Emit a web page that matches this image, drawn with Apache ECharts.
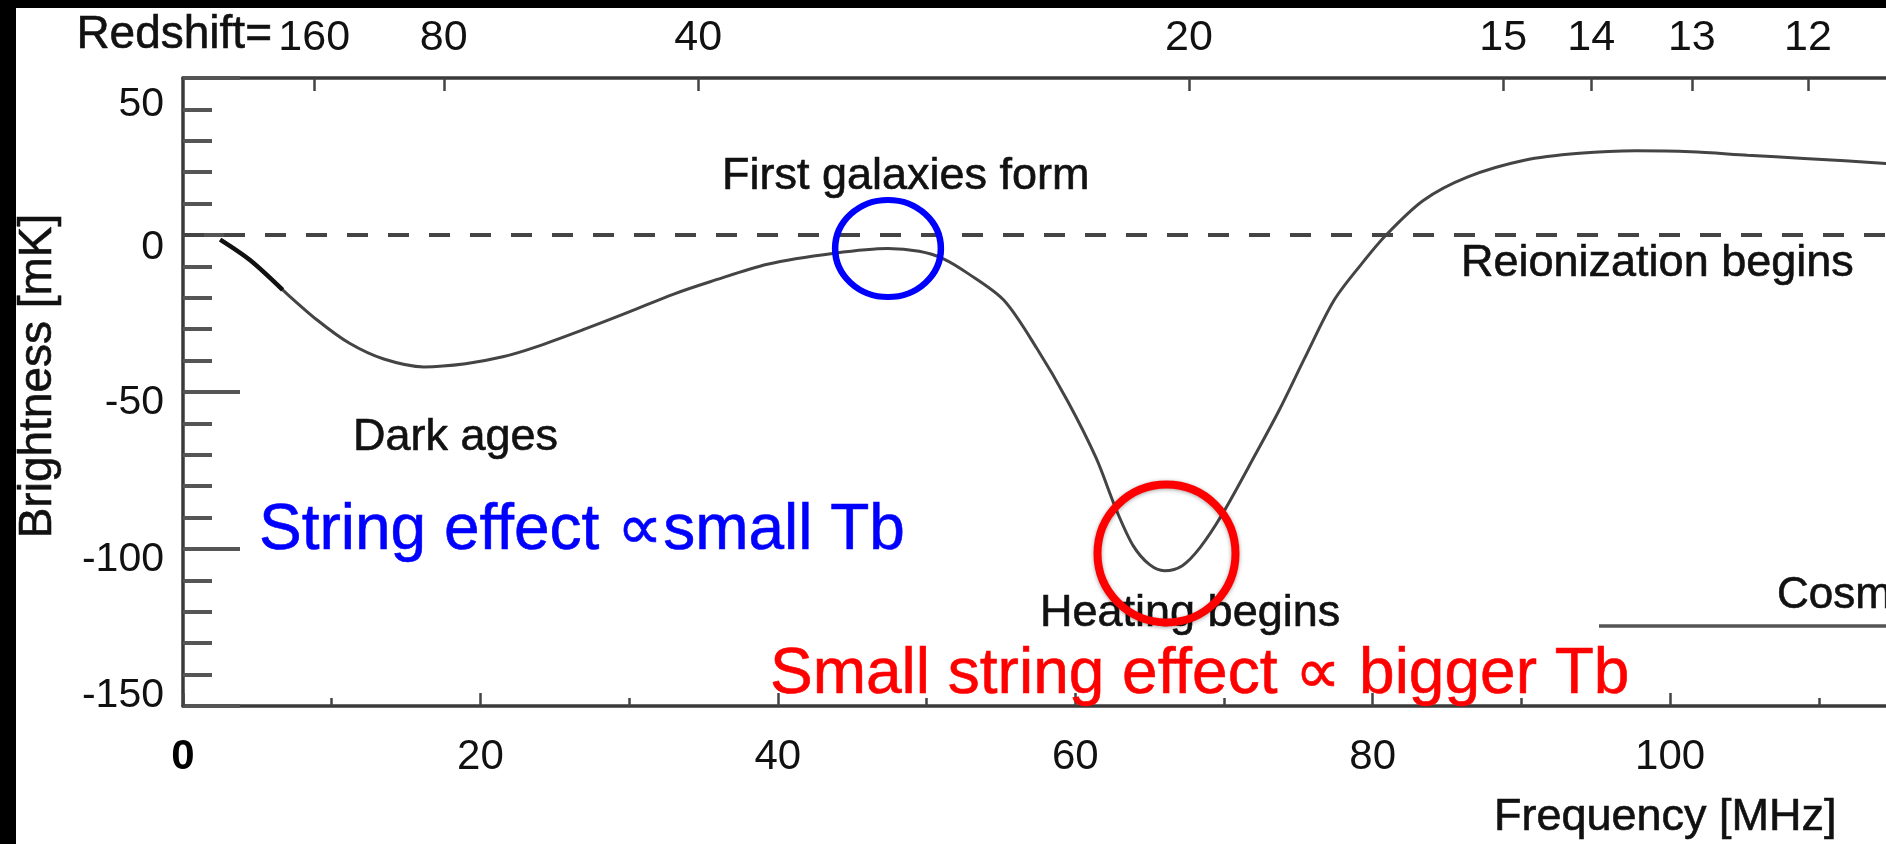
<!DOCTYPE html>
<html>
<head>
<meta charset="utf-8">
<script src="https://cdn.jsdelivr.net/npm/echarts@6/dist/echarts.min.js"></script>
<style>
html,body{margin:0;padding:0;background:#fff;}
#chart{width:1886px;height:844px;}
</style>
</head>
<body>
<div id="chart"></div>
<script>
// ---- data ----
const frequencyMHz = [2.5, 4.5, 6.7, 9, 11.2, 13.5, 16.2, 19, 21.5, 23.7, 27, 30, 33, 35.5, 39.3, 43.8, 47.4, 49.5, 51.1, 52.8, 55.2, 57.4, 59.5, 61.4, 62.8, 63.9, 65, 66, 67.2, 68.4, 69.9, 72.1, 73.7, 75.5, 77.4, 79.2, 80.9, 83.4, 86.4, 90.2, 93.9, 97.7, 101.4, 105.2, 109, 114.5, 120];
const brightnessMK = [-1.5, -8, -17.5, -27, -34.5, -39.5, -42, -41, -38.8, -35.7, -30, -24.5, -18.8, -14.8, -9.3, -5.8, -4.3, -5.2, -7.5, -12.3, -20.8, -36, -53, -71, -88, -99, -105, -106.9, -105.3, -99.5, -88.8, -70, -55.9, -38.5, -20.8, -9.5, 0, 11, 18.5, 23.8, 26, 26.8, 26.5, 25.4, 24.4, 22.8, 21];
const darkSegmentCount = 3;           // first points drawn darker/thicker
const redshiftTicks = [160, 80, 40, 20, 15, 14, 13, 12];
const freqTicks = [0, 20, 40, 60, 80, 100, 120, 140];
const brightnessTicks = [-150, -100, -50, 0, 50];
const REST_FREQ_MHZ = 1420.4;          // 21 cm line: nu = 1420.4 / (1 + z)
const redshiftFreqs = redshiftTicks.map(z => REST_FREQ_MHZ / (1 + z));

const FONT = "'Liberation Sans', Arial, Helvetica, sans-serif";

// vertical nudges of y tick labels as seen in the picture
const yLabelShift = {'50': 27, '0': 13, '-50': 11, '-100': 11, '-150': -10};
const yRich = {};
brightnessTicks.forEach(v => {
  const d = yLabelShift[String(v)] || 0;
  const key = 'v' + String(v).replace('-', 'm');
  yRich[key] = {
    fontSize: 41, fontFamily: FONT, color: '#111',
    padding: d >= 0 ? [2 * d, 0, 0, 0] : [0, 0, -2 * d, 0]
  };
});

function txt(str, x, y, size, color, align) {
  return {
    type: 'text', x: x, y: y, z: 100,
    style: {
      text: str, fill: color, fontSize: size, fontFamily: FONT,
      stroke: color, lineWidth: 0.6,
      align: align || 'left', textAlign: align || 'left',
      verticalAlign: 'middle', textVerticalAlign: 'middle'
    }
  };
}

const chart = echarts.init(document.getElementById('chart'), null, {renderer: 'canvas'});
const seriesData = frequencyMHz.map((f, i) => [f, brightnessMK[i]]);

const option = {
  animation: false,
  backgroundColor: '#fff',
  grid: {left: 183, top: 78, bottom: 138, right: -379, containLabel: false, outerBoundsMode: 'none'},
  xAxis: [
    {
      type: 'value', min: freqTicks[0], max: freqTicks[freqTicks.length - 1], interval: 20,
      position: 'bottom',
      axisLine: {show: true, onZero: false, lineStyle: {color: '#3a3a3a', width: 3.5}},
      axisTick: {show: true, inside: true, length: 13, lineStyle: {color: '#444', width: 2.5}},
      minorTick: {show: true, splitNumber: 2, length: 8, lineStyle: {color: '#444', width: 2.5}},
      splitLine: {show: false}, minorSplitLine: {show: false},
      axisLabel: {
        margin: 51, verticalAlign: 'middle', color: '#111', fontSize: 42, fontFamily: FONT,
        formatter: v => v === 0 ? '{b|0}' : String(v),
        rich: {b: {fontWeight: 'bold', fontSize: 42, fontFamily: FONT, color: '#000'}}
      }
    },
    {
      type: 'value', min: freqTicks[0], max: freqTicks[freqTicks.length - 1],
      position: 'top',
      axisLine: {show: true, onZero: false, lineStyle: {color: '#3a3a3a', width: 3.5}},
      axisTick: {show: true, inside: true, length: 13, customValues: redshiftFreqs, lineStyle: {color: '#444', width: 2.5}},
      splitLine: {show: false},
      axisLabel: {
        customValues: redshiftFreqs, margin: 40, verticalAlign: 'middle',
        color: '#111', fontSize: 43, fontFamily: FONT,
        formatter: v => String(Math.round(REST_FREQ_MHZ / v - 1))
      }
    }
  ],
  yAxis: {
    type: 'value', min: -150, max: 50, interval: 50,
    axisLine: {show: true, onZero: false, lineStyle: {color: '#3a3a3a', width: 3.5}},
    axisTick: {show: true, inside: true, length: 57, lineStyle: {color: '#555', width: 4}},
    minorTick: {show: true, splitNumber: 5, length: 29, lineStyle: {color: '#555', width: 4}},
    splitLine: {show: false}, minorSplitLine: {show: false},
    axisLabel: {
      margin: 19, color: '#111', fontSize: 41, fontFamily: FONT,
      formatter: v => '{' + ('v' + String(v).replace('-', 'm')) + '|' + v + '}',
      rich: yRich
    }
  },
  series: [
    {
      type: 'line', data: seriesData, showSymbol: false, smooth: 0.3, z: 3,
      lineStyle: {color: '#444', width: 3},
      markLine: {
        silent: true, symbol: 'none', label: {show: false},
        lineStyle: {type: [21, 20], color: '#444', width: 4},
        data: [{yAxis: 0}]
      }
    },
    {
      type: 'line', data: seriesData.slice(0, darkSegmentCount), showSymbol: false, smooth: 0.3, z: 4,
      lineStyle: {color: '#111', width: 4.5}
    }
  ],
  graphic: {
    elements: [
      {type: 'rect', z: 200, shape: {x: 0, y: 0, width: 16, height: 844}, style: {fill: '#000'}},
      {type: 'rect', z: 200, shape: {x: 0, y: 0, width: 1886, height: 8}, style: {fill: '#000'}},
      txt('Redshift=', 272, 35, 46, '#111', 'right'),
      txt('First galaxies form', 722, 177, 45, '#111'),
      txt('Reionization begins', 1461, 264, 45, '#111'),
      txt('Dark ages', 353, 438, 45, '#111'),
      txt('Heating begins', 1040, 614, 45, '#111'),
      txt('Cosm', 1777, 596, 44, '#111'),
      txt('Frequency [MHz]', 1494, 818, 45, '#111'),
      {
        type: 'text', x: 38, y: 376, rotation: Math.PI / 2, z: 100,
        style: {text: 'Brightness [mK]', fill: '#111', stroke: '#111', lineWidth: 0.6, fontSize: 46, fontFamily: FONT,
          align: 'center', textAlign: 'center', verticalAlign: 'middle', textVerticalAlign: 'middle'}
      },
      {type: 'line', z: 90, shape: {x1: 1599, y1: 626, x2: 1890, y2: 626}, style: {stroke: '#555', lineWidth: 3.5}},
      {
        type: 'circle', x: 888, y: 248.5, scaleX: 1.09, scaleY: 1, z: 150,
        shape: {cx: 0, cy: 0, r: 48.5},
        style: {fill: 'none', stroke: '#0000ff', lineWidth: 6}
      },
      {
        type: 'circle', x: 1166.5, y: 553.5, z: 150,
        shape: {cx: 0, cy: 0, r: 69},
        style: {fill: 'none', stroke: '#ff0000', lineWidth: 8, shadowBlur: 4, shadowColor: 'rgba(0,0,0,0.35)', shadowOffsetY: 1}
      },
      txt('String effect \u221Dsmall Tb', 259, 531, 64, '#0000ff'),
      txt('Small string effect \u221D bigger Tb', 770, 675, 64, '#ff0000')
    ]
  }
};
chart.setOption(option);
</script>
</body>
</html>
